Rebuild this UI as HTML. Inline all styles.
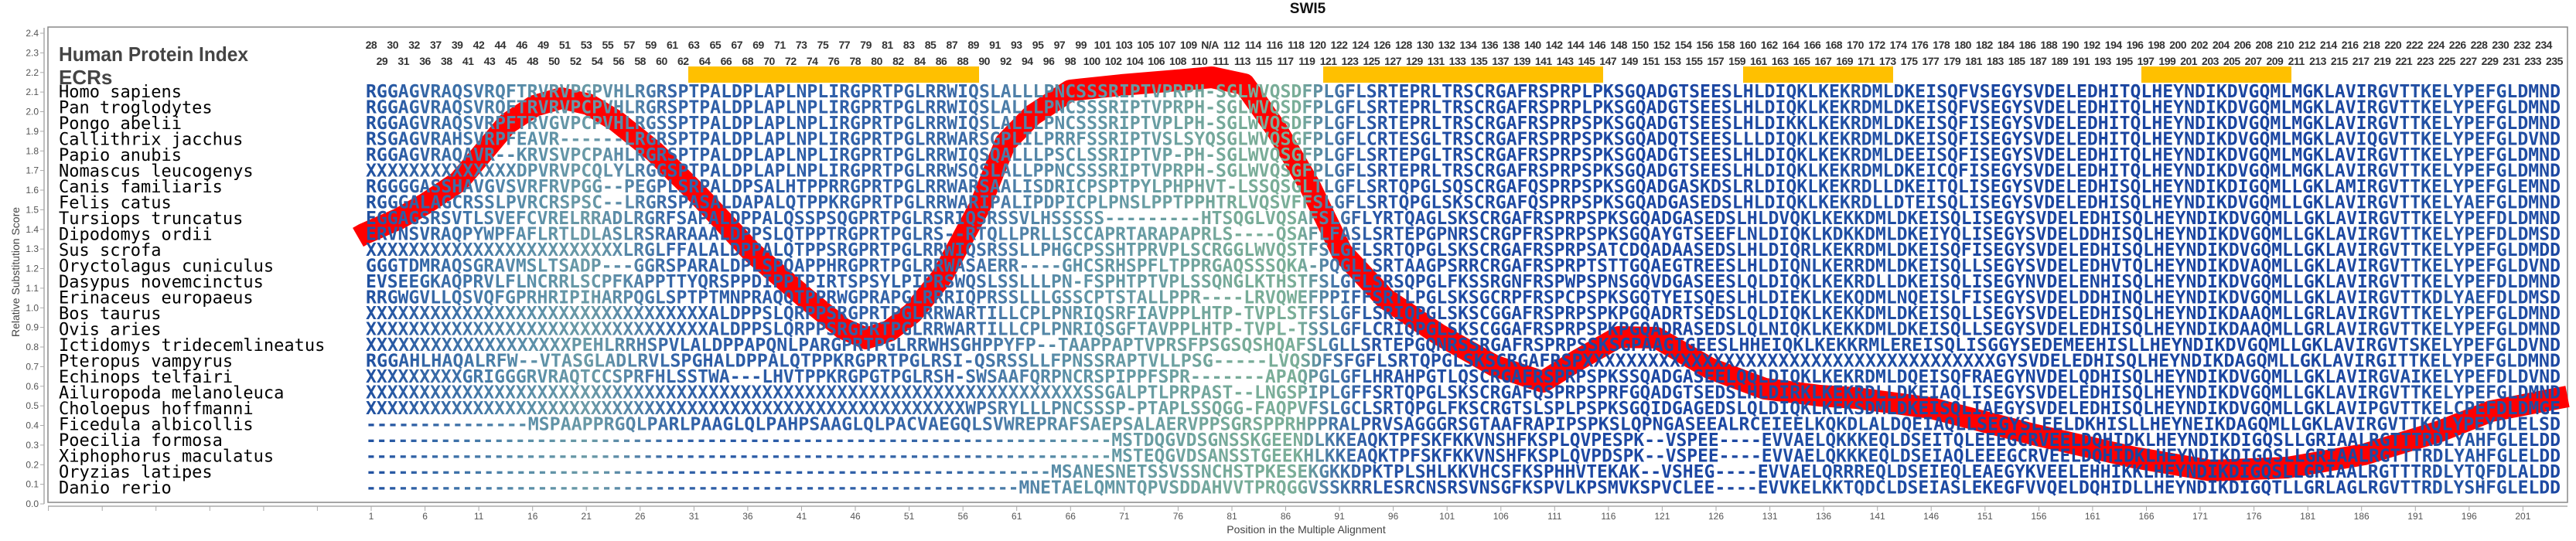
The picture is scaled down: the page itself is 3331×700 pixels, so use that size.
<!DOCTYPE html>
<html><head><meta charset="utf-8"><style>
html,body{margin:0;padding:0;background:#fff;}
#w{position:relative;width:3331px;height:700px;overflow:hidden;background:#fff;}
svg{position:absolute;left:0;top:0;}
.idx{position:absolute;display:flex;font-family:"Liberation Sans",sans-serif;font-weight:bold;font-size:14px;color:#333;line-height:16px;}
.idx span{width:27.824px;text-align:center;flex:none;letter-spacing:-0.5px;}
</style></head><body><div id="w">
<svg width="3331" height="700" viewBox="0 0 3331 700" xmlns="http://www.w3.org/2000/svg">
<defs>
<linearGradient id="g" gradientUnits="userSpaceOnUse" x1="473" y1="0" x2="3311" y2="0">
<stop offset="0" stop-color="#2050a0"/>
<stop offset="0.017" stop-color="#2d5ea5"/>
<stop offset="0.045" stop-color="#3f73a8"/>
<stop offset="0.073" stop-color="#5a8ea8"/>
<stop offset="0.101" stop-color="#6a9aa6"/>
<stop offset="0.122" stop-color="#5585a8"/>
<stop offset="0.140" stop-color="#3565a8"/>
<stop offset="0.168" stop-color="#2a5aa6"/>
<stop offset="0.221" stop-color="#3060a8"/>
<stop offset="0.274" stop-color="#3a6aa6"/>
<stop offset="0.291" stop-color="#4b7ca8"/>
<stop offset="0.327" stop-color="#5f94a6"/>
<stop offset="0.362" stop-color="#6a9ea2"/>
<stop offset="0.397" stop-color="#78ab98"/>
<stop offset="0.425" stop-color="#7aae98"/>
<stop offset="0.440" stop-color="#4878a8"/>
<stop offset="0.460" stop-color="#2855a5"/>
<stop offset="0.503" stop-color="#1e4aa2"/>
<stop offset="0.608" stop-color="#1c46a2"/>
<stop offset="0.679" stop-color="#2050a4"/>
<stop offset="0.749" stop-color="#1a45a0"/>
<stop offset="0.890" stop-color="#1a45a0"/>
<stop offset="0.961" stop-color="#2555a5"/>
<stop offset="1" stop-color="#1c48a2"/>
</linearGradient>
</defs>
<text x="1691" y="17" text-anchor="middle" font-family="Liberation Sans, sans-serif" font-weight="bold" font-size="19" fill="#111">SWI5</text>
<rect x="62" y="35" width="3258" height="615" fill="none" stroke="#888" stroke-width="1.5"/>
<line x1="57" y1="36" x2="57" y2="652" stroke="#aaa" stroke-width="1.5"/>
<line x1="62" y1="655" x2="3320" y2="655" stroke="#aaa" stroke-width="1.5"/>
<g stroke="#aaa" stroke-width="1">
<line x1="52" y1="43" x2="57" y2="43"/><line x1="52" y1="68.4" x2="57" y2="68.4"/><line x1="52" y1="93.8" x2="57" y2="93.8"/><line x1="52" y1="119.1" x2="57" y2="119.1"/><line x1="52" y1="144.5" x2="57" y2="144.5"/><line x1="52" y1="169.9" x2="57" y2="169.9"/><line x1="52" y1="195.3" x2="57" y2="195.3"/><line x1="52" y1="220.6" x2="57" y2="220.6"/><line x1="52" y1="246" x2="57" y2="246"/><line x1="52" y1="271.4" x2="57" y2="271.4"/><line x1="52" y1="296.8" x2="57" y2="296.8"/><line x1="52" y1="322.1" x2="57" y2="322.1"/><line x1="52" y1="347.5" x2="57" y2="347.5"/><line x1="52" y1="372.9" x2="57" y2="372.9"/><line x1="52" y1="398.3" x2="57" y2="398.3"/><line x1="52" y1="423.6" x2="57" y2="423.6"/><line x1="52" y1="449" x2="57" y2="449"/><line x1="52" y1="474.4" x2="57" y2="474.4"/><line x1="52" y1="499.8" x2="57" y2="499.8"/><line x1="52" y1="525.1" x2="57" y2="525.1"/><line x1="52" y1="550.5" x2="57" y2="550.5"/><line x1="52" y1="575.9" x2="57" y2="575.9"/><line x1="52" y1="601.3" x2="57" y2="601.3"/><line x1="52" y1="626.6" x2="57" y2="626.6"/><line x1="52" y1="652" x2="57" y2="652"/>
</g>
<g font-family="Liberation Sans, sans-serif" font-size="12" fill="#555" text-anchor="end">
<text x="50" y="47">2.4</text><text x="50" y="72.4">2.3</text><text x="50" y="97.8">2.2</text><text x="50" y="123.1">2.1</text><text x="50" y="148.5">2.0</text><text x="50" y="173.9">1.9</text><text x="50" y="199.3">1.8</text><text x="50" y="224.6">1.7</text><text x="50" y="250">1.6</text><text x="50" y="275.4">1.5</text><text x="50" y="300.8">1.4</text><text x="50" y="326.1">1.3</text><text x="50" y="351.5">1.2</text><text x="50" y="376.9">1.1</text><text x="50" y="402.3">1.0</text><text x="50" y="427.6">0.9</text><text x="50" y="453">0.8</text><text x="50" y="478.4">0.7</text><text x="50" y="503.8">0.6</text><text x="50" y="529.1">0.5</text><text x="50" y="554.5">0.4</text><text x="50" y="579.9">0.3</text><text x="50" y="605.3">0.2</text><text x="50" y="630.6">0.1</text><text x="50" y="656">0.0</text>
</g>
<text transform="translate(25,352) rotate(-90)" text-anchor="middle" font-family="Liberation Sans, sans-serif" font-size="14" fill="#444">Relative Substitution Score</text>
<g stroke="#aaa" stroke-width="1">
<line x1="62.6" y1="655" x2="62.6" y2="661"/><line x1="132.2" y1="655" x2="132.2" y2="661"/><line x1="201.7" y1="655" x2="201.7" y2="661"/><line x1="271.3" y1="655" x2="271.3" y2="661"/><line x1="340.9" y1="655" x2="340.9" y2="661"/><line x1="410.4" y1="655" x2="410.4" y2="661"/>
<line x1="480" y1="655" x2="480" y2="661"/><line x1="549.6" y1="655" x2="549.6" y2="661"/><line x1="619.1" y1="655" x2="619.1" y2="661"/><line x1="688.7" y1="655" x2="688.7" y2="661"/><line x1="758.2" y1="655" x2="758.2" y2="661"/><line x1="827.8" y1="655" x2="827.8" y2="661"/><line x1="897.4" y1="655" x2="897.4" y2="661"/><line x1="966.9" y1="655" x2="966.9" y2="661"/><line x1="1036.5" y1="655" x2="1036.5" y2="661"/><line x1="1106" y1="655" x2="1106" y2="661"/><line x1="1175.6" y1="655" x2="1175.6" y2="661"/><line x1="1245.2" y1="655" x2="1245.2" y2="661"/><line x1="1314.7" y1="655" x2="1314.7" y2="661"/><line x1="1384.3" y1="655" x2="1384.3" y2="661"/><line x1="1453.8" y1="655" x2="1453.8" y2="661"/><line x1="1523.4" y1="655" x2="1523.4" y2="661"/><line x1="1593" y1="655" x2="1593" y2="661"/><line x1="1662.5" y1="655" x2="1662.5" y2="661"/><line x1="1732.1" y1="655" x2="1732.1" y2="661"/><line x1="1801.6" y1="655" x2="1801.6" y2="661"/><line x1="1871.2" y1="655" x2="1871.2" y2="661"/><line x1="1940.8" y1="655" x2="1940.8" y2="661"/><line x1="2010.3" y1="655" x2="2010.3" y2="661"/><line x1="2079.9" y1="655" x2="2079.9" y2="661"/><line x1="2149.4" y1="655" x2="2149.4" y2="661"/><line x1="2219" y1="655" x2="2219" y2="661"/><line x1="2288.6" y1="655" x2="2288.6" y2="661"/><line x1="2358.1" y1="655" x2="2358.1" y2="661"/><line x1="2427.7" y1="655" x2="2427.7" y2="661"/><line x1="2497.2" y1="655" x2="2497.2" y2="661"/><line x1="2566.8" y1="655" x2="2566.8" y2="661"/><line x1="2636.4" y1="655" x2="2636.4" y2="661"/><line x1="2705.9" y1="655" x2="2705.9" y2="661"/><line x1="2775.5" y1="655" x2="2775.5" y2="661"/><line x1="2845" y1="655" x2="2845" y2="661"/><line x1="2914.6" y1="655" x2="2914.6" y2="661"/><line x1="2984.2" y1="655" x2="2984.2" y2="661"/><line x1="3053.7" y1="655" x2="3053.7" y2="661"/><line x1="3123.3" y1="655" x2="3123.3" y2="661"/><line x1="3192.8" y1="655" x2="3192.8" y2="661"/><line x1="3262.4" y1="655" x2="3262.4" y2="661"/>
</g>
<g font-family="Liberation Sans, sans-serif" font-size="12" fill="#555" text-anchor="middle">
<text x="480" y="672">1</text><text x="549.6" y="672">6</text><text x="619.1" y="672">11</text><text x="688.7" y="672">16</text><text x="758.2" y="672">21</text><text x="827.8" y="672">26</text><text x="897.4" y="672">31</text><text x="966.9" y="672">36</text><text x="1036.5" y="672">41</text><text x="1106" y="672">46</text><text x="1175.6" y="672">51</text><text x="1245.2" y="672">56</text><text x="1314.7" y="672">61</text><text x="1384.3" y="672">66</text><text x="1453.8" y="672">71</text><text x="1523.4" y="672">76</text><text x="1593" y="672">81</text><text x="1662.5" y="672">86</text><text x="1732.1" y="672">91</text><text x="1801.6" y="672">96</text><text x="1871.2" y="672">101</text><text x="1940.8" y="672">106</text><text x="2010.3" y="672">111</text><text x="2079.9" y="672">116</text><text x="2149.4" y="672">121</text><text x="2219" y="672">126</text><text x="2288.6" y="672">131</text><text x="2358.1" y="672">136</text><text x="2427.7" y="672">141</text><text x="2497.2" y="672">146</text><text x="2566.8" y="672">151</text><text x="2636.4" y="672">156</text><text x="2705.9" y="672">161</text><text x="2775.5" y="672">166</text><text x="2845" y="672">171</text><text x="2914.6" y="672">176</text><text x="2984.2" y="672">181</text><text x="3053.7" y="672">186</text><text x="3123.3" y="672">191</text><text x="3192.8" y="672">196</text><text x="3262.4" y="672">201</text>
</g>
<text x="1689" y="690" text-anchor="middle" font-family="Liberation Sans, sans-serif" font-size="14" fill="#444">Position in the Multiple Alignment</text>
<text x="76" y="79" font-family="Liberation Sans, sans-serif" font-weight="bold" font-size="26" fill="#444" textLength="245" lengthAdjust="spacingAndGlyphs">Human Protein Index</text>
<text x="76" y="109" font-family="Liberation Sans, sans-serif" font-weight="bold" font-size="26" fill="#444">ECRs</text>
<g fill="#ffc000">
<rect x="890" y="86" width="376" height="21"/>
<rect x="1711" y="86" width="362" height="21"/>
<rect x="2254" y="86" width="194" height="21"/>
<rect x="2769" y="86" width="194" height="21"/>
</g>
<polyline fill="none" stroke="#ff0000" stroke-width="28" stroke-linejoin="round" points="463,307 470,303 516,283 551,263 593,235 625,197 656,160 691,137 726,127 761,135 796,156 846,196 902,251 972,326 1042,386 1090,425 1120,438 1150,428 1180,405 1218,358 1267,267 1300,185 1335,149 1384,117 1450,110 1510,105 1567,100 1609,109 1651,168 1693,239 1735,326 1791,386 1861,433 1932,473 1995,494 2040,466 2093,436 2142,437 2212,477 2282,503 2353,512 2400,515 2497,528 2629,562 2760,592 2859,609 2958,605 3057,588 3155,558 3221,532 3320,513"/>
<g font-family="DejaVu Sans Mono, Liberation Mono, monospace" font-size="22" fill="#000">
<text x="76" y="126">Homo sapiens</text>
<text x="76" y="146.5">Pan troglodytes</text>
<text x="76" y="167">Pongo abelii</text>
<text x="76" y="187.5">Callithrix jacchus</text>
<text x="76" y="208">Papio anubis</text>
<text x="76" y="228.5">Nomascus leucogenys</text>
<text x="76" y="249">Canis familiaris</text>
<text x="76" y="269.5">Felis catus</text>
<text x="76" y="290">Tursiops truncatus</text>
<text x="76" y="310.5">Dipodomys ordii</text>
<text x="76" y="331">Sus scrofa</text>
<text x="76" y="351.5">Oryctolagus cuniculus</text>
<text x="76" y="372">Dasypus novemcinctus</text>
<text x="76" y="392.5">Erinaceus europaeus</text>
<text x="76" y="413">Bos taurus</text>
<text x="76" y="433.5">Ovis aries</text>
<text x="76" y="454">Ictidomys tridecemlineatus</text>
<text x="76" y="474.5">Pteropus vampyrus</text>
<text x="76" y="495">Echinops telfairi</text>
<text x="76" y="515.5">Ailuropoda melanoleuca</text>
<text x="76" y="536">Choloepus hoffmanni</text>
<text x="76" y="556.5">Ficedula albicollis</text>
<text x="76" y="577">Poecilia formosa</text>
<text x="76" y="597.5">Xiphophorus maculatus</text>
<text x="76" y="618">Oryzias latipes</text>
<text x="76" y="638.5">Danio rerio</text>
</g>
<g font-family="DejaVu Sans Mono, Liberation Mono, monospace" font-weight="bold" font-size="23" fill="url(#g)">
<text x="473" y="126" textLength="2838" lengthAdjust="spacingAndGlyphs">RGGAGVRAQSVRQFTRVRVPGPVHLRGRSPTPALDPLAPLNPLIRGPRTPGLRRWIQSLALLLPNCSSSRIPTVPRPH-SGLWVQSDFPLGFLSRTEPRLTRSCRGAFRSPRPLPKSGQADGTSEESLHLDIQKLKEKRDMLDKEISQFVSEGYSVDELEDHITQLHEYNDIKDVGQMLMGKLAVIRGVTTKELYPEFGLDMND</text>
<text x="473" y="146.5" textLength="2838" lengthAdjust="spacingAndGlyphs">RGGAGVRAQSVRQFTRVRVPCPVHLRGRSPTPALDPLAPLNPLIRGPRTPGLRRWIQSLALLLPNCSSSRIPTVPRPH-SGLWVQSDFPLGFLSRTEPRLTRSCRGAFRSPRPLPKSGQADGTSEESLHLDIQKLKEKRDMLDKEISQFVSEGYSVDELEDHITQLHEYNDIKDVGQMLMGKLAVIRGVTTKELYPEFGLDMND</text>
<text x="473" y="167" textLength="2838" lengthAdjust="spacingAndGlyphs">RGGAGVRAQSVRPFTRVGVPCPVHLRGSSPTPALDPLAPLNPLIRGPRTPGLRRWIQSLALLLPNCSSSRIPTVPLPH-SGLWVQSDFPLGFLSRTEPRLTRSCRGAFRSPRPSPKSGQADGTSEESLHLDIKKLKEKRDMLDKEISQFISEGYSVDELEDHITQLHEYNDIKDVGQMLMGKLAVIRGVTTKELYPEFGLDMND</text>
<text x="473" y="187.5" textLength="2838" lengthAdjust="spacingAndGlyphs">RSGAGVRAHSVRPFEAVR------LRGRSPTPALDPLAPLNPLIRGPRTPGLRRWARSGPLILPRRFSSRIPTVSLSYQSGLWVQSGFPLGFLCRTESGLTRSCRGAFRSPRPSPKSGQADQTSEESLLLDIQKLKEKRDMLDKEISQFISEGYSVDELEDHITQLHEYNDIKDVGQMLMGKLAVIQGVTTKELYPEFGLDVND</text>
<text x="473" y="208" textLength="2838" lengthAdjust="spacingAndGlyphs">RGGAGVRAQAVR--KRVSVPCPAHLRGRSPTPALDPLAPLNPLIRGPRTPGLRRWIQSQALLLPSCLSSRIPTVP-PH-SGLWVQSGFPLGFLSRTEPGLTRSCRGAFRSPRPSPKSGQADGTSEESLHLDIQKLKEKRDMLDEEISQFISEGYSVDELEDHITQLHEYNDIKDVGQMLMGKLAVIRGVTTKELYPEFGLDMND</text>
<text x="473" y="228.5" textLength="2838" lengthAdjust="spacingAndGlyphs">XXXXXXXXXXXXXXDPVRVPCQLYLRGGSPTPALDPLAPLNPLIRGPRTPGLRRWSQSLALLPPNCSSSRIPTVPRPH-SGLWVQSGFPLGFLSRTEPRLTRSCRGAFRSPRPSPKSGQADGTSEESLHLDIQKLKEKRDMLDKEICQFISEGYSVDELEDHITQLHEYNDIKDVGQMLMGKLAVIRGVTTKELYPEFGLDMND</text>
<text x="473" y="249" textLength="2838" lengthAdjust="spacingAndGlyphs">RGGGGASSHAVGVSVRFRVPGG--PEGPLSRPALDPSALHTPPRRGPRTPGLRRWARSAALISDRICPSPTPYLPHPHVT-LSSQSGLTLGFLSRTQPGLSQSCRGAFQSPRPSPKSGQADGASKDSLRLDIQKLKEKRDLLDKEITQLISEGYSVDELEDHISQLHEYNDIKDIGQMLLGKLAMIRGVTTKELYPEFGLEMND</text>
<text x="473" y="269.5" textLength="2838" lengthAdjust="spacingAndGlyphs">RGGGALAGCRSSLPVRCRSPSC--LRGRSPASALDAPALQTPPKRGPRTPGLRRWARIPALIPDPICPLPNSLPPTPPHTRLVQSVFFSLGFLSRTQPGLSKSCRGAFQSPRPSPKSGQADGASEDSLHLDIQKLKEKRDLLDTEISQLISEGYSVDELEDHISQLHEYNDIKDVGQMLLGKLAVIRGVTTKELYAEFGLDMND</text>
<text x="473" y="290" textLength="2838" lengthAdjust="spacingAndGlyphs">EGGAGSRSVTLSVEFCVRELRRADLRGRFSAPALDPPALQSSPSQGPRTPGLRSRIQSRSSVLHSSSSS---------HTSQGLVQSAFSLGFLYRTQAGLSKSCRGAFRSPRPSPKSGQADGASEDSLHLDVQKLKEKKDMLDKEISQLISEGYSVDELEDHISQLHEYNDIKDVGQMLLGKLAVIRGVTTKELYPEFDLDMND</text>
<text x="473" y="310.5" textLength="2838" lengthAdjust="spacingAndGlyphs">ERVNSVRAQPYWPFAFLRTLDLASLRSRARAAALDPPSLQTPPTRGPRTPGLRS--RTQLLPRLLSCCAPRTARAPAPRLS----QSAFLFASLSRTEPGPNRSCRGPFRSPRPSPKSGQAYGTSEEFLNLDIQKLKDKKDMLDKEIYQLISEGYSVDELDDHISQLHEYNDIKDVGQMLLGKLAVIRGVTTKELYPEFDLDMSD</text>
<text x="473" y="331" textLength="2838" lengthAdjust="spacingAndGlyphs">XXXXXXXXXXXXXXXXXXXXXXXXLRGLFFALALDPPALQTPPSRGPRTPGLRRWIQSRSSLLPHGCPSSHTPRVPLSCRGGLWVQSTFSLGFLSRTQPGLSKSCRGAFRSPRPSATCDQADAASEDSLHLDIQRLKEKRDMLDKEISQFISEGYSVDELEDHISQLHEYNDIKDVGQMLLGKLAVIRGVTTKELYPEFGLDMDD</text>
<text x="473" y="351.5" textLength="2838" lengthAdjust="spacingAndGlyphs">GGGTDMRAQSGRAVMSLTSADP---GGRSPARALDPLSPQAPPHRGPRTPGLRRWASAERR----GHCSRHSPFLTPPRGAQSSSQKA-PQGLLSRTAAGPSRRCRGAFRSPRPTSTTGQAEGTREESLHLDIQNLKERRDMLDKEISQLLSEGYSVDELEDHVTQLHEYNDIKDVAQMLLGKLAVIRGVTTKELYPEFGLDVND</text>
<text x="473" y="372" textLength="2838" lengthAdjust="spacingAndGlyphs">EVSEEGKAQPRVLFLNCRRLSCPFKAPPTTYQRSPPDIPPTPIRTSPSYLPIPRSWQSLSSLLLPN-FSPHTPTVPLSSQNGLKTHSTFSLGFLSRSQPGLFKSSRGNFRSPWPSPNSGQVDGASEESLQLDIQKLKEKRDLLDKEISQLISEGYNVDELENHISQLHEYNDIKDVGQMLLGKLAVIRGVTTKELYPEFDLDMND</text>
<text x="473" y="392.5" textLength="2838" lengthAdjust="spacingAndGlyphs">RRGWGVLLQSVQFGPRHRIPIHARPQGLSPTPTMNPRAQQTPPRWGPRAPGLRRRIQPRSSLLLGSSCPTSTALLPPR----LRVQWEFPPIFFSRTLPGLSKSGCRPFRSPCPSPKSGQTYEISQESLHLDIEKLKEKQDMLNQEISLFISEGYSVDELDDHINQLHEYNDIKDVGQMLLGKLAVIRGVTTKDLYAEFDLDMSD</text>
<text x="473" y="413" textLength="2838" lengthAdjust="spacingAndGlyphs">XXXXXXXXXXXXXXXXXXXXXXXXXXXXXXXXALDPPSLQRPPSRGPRTPGLRRWARTILLCPLPNRIQSRFIAVPPLHTP-TVPLSTFSLGFLSRIQPGLSKSCGGAFRSPRPSPKPGQADRTSEDSLQLDIQKLKEKKDMLDKEISQLLSEGYSVDELEDHISQLHEYNDIKDAAQMLLGRLAVIRGVTTKELYPEFGLDMND</text>
<text x="473" y="433.5" textLength="2838" lengthAdjust="spacingAndGlyphs">XXXXXXXXXXXXXXXXXXXXXXXXXXXXXXXXALDPPSLQRPPSRGPRTPGLRRWARTILLCPLPNRIQSGFTAVPPLHTP-TVPL-TSSLGFLCRIQPGLSKSCGGAFRSPRPSPKPGQADRASEDSLQLNIQKLKEKKDMLDKEISQLLSEGYSVDELEDHISQLHEYNDIKDAAQMLLGRLAVIRGVTTKELYPEFGLDMND</text>
<text x="473" y="454" textLength="2838" lengthAdjust="spacingAndGlyphs">XXXXXXXXXXXXXXXXXXXPEHLRRHSPVLALDPPAPQNLPARGPRTPGLRRWHSGHPPYFP--TAAPPAPTVPRSFPSGSQSHQAFSLGLLSRTEPGQNRSSRGAFRSPRPSSKSGPAAGTGEESLHHEIQKLKEKKRMLEREISQLISGGYSEDEMEEHISLLHEYNDIKDVGQMLLGKLAVIRGVTSKELYPEFGLDVND</text>
<text x="473" y="474.5" textLength="2838" lengthAdjust="spacingAndGlyphs">RGGAHLHAQALRFW--VTASGLADLRVLSPGHALDPPALQTPPKRGPRTPGLRSI-QSRSSLLFPNSSRAPTVLLPSG-----LVQSDFSFGFLSRTQPGLSKSCRGAFRSPXXXXXXXXXXXXXXXXXXXXXXXXXXXXXXXXXXXXXXGYSVDELEDHISQLHEYNDIKDAGQMLLGKLAVIRGITTKELYPEFGLDMND</text>
<text x="473" y="495" textLength="2838" lengthAdjust="spacingAndGlyphs">XXXXXXXXXGRIGGGRVRAQTCCSPRFHLSSTWA---LHVTPPKRGPGTPGLRSH-SWSAAFQRPNCRSPIPPFSPR-------APAQPGLGFLHRAHPGTLQSCRGAFRSPRPSPKSSQADGASEELQQLDIQKLKEKRDMLDQEISQFRAEGYNVDELQDHISQLHEYNDIKDVGQMLLGKLAVIRGVAIKELYPEFDLDVND</text>
<text x="473" y="515.5" textLength="2838" lengthAdjust="spacingAndGlyphs">XXXXXXXXXXXXXXXXXXXXXXXXXXXXXXXXXXXXXXXXXXXXXXXXXXXXXXXXXXXXXXXXXXXSSGALPTLPRPAST--LNGSPIPLGFFSRTQPGLSKSCRGAFQSPRPSPRFGQADGTSEDSLHLDIRKLKEKRDLLDKEIAQLISEGYSVDELEDHISQLHEYNDIKDVGQMLLGKLAVIRGVTTKELYPEFGLDMND</text>
<text x="473" y="536" textLength="2838" lengthAdjust="spacingAndGlyphs">XXXXXXXXXXXXXXXXXXXXXXXXXXXXXXXXXXXXXXXXXXXXXXXXXXXXXXXXWPSRYLLLPNCSSSP-PTAPLSSQGG-FAQPVFSLGCLSRTQPGLFKSCRGTSLSPLPSPKSGQIDGAGEDSLQLDIQKLKEKSDMLDKEISQLIAEGYSVDELEDHISQLHEYNDIKDVGQMLLGKLAVIPGVTTKELCPEFDLDMGE</text>
<text x="473" y="556.5" textLength="2838" lengthAdjust="spacingAndGlyphs">---------------MSPAAPPRGQLPARLPAAGLQLPAHPSAAGLQLPACVAEGQLSVWREPRAFSAEPSALAERVPPSGRSPPRHPPRALPRVSAGGGRSGTAAFRAPIPSPKSLQPNGASEEALRCEIEELKQKDLALDQEIAQLLSEGYSLEELDKHISLLHEYNEIKDAGQMLLGKLAVIRGVTTKQLYPEYDLELSD</text>
<text x="473" y="577" textLength="2838" lengthAdjust="spacingAndGlyphs">----------------------------------------------------------------------MSTDQGVDSGNSSKGEENDLKKEAQKTPFSKFKKVNSHFKSPLQVPESPK--VSPEE----EVVAELQKKKEQLDSEITQLEEEGCRVEELDQHIDKLHEYNDIKDIGQSLLGRIAALRGTTTRDLYAHFGLELDD</text>
<text x="473" y="597.5" textLength="2838" lengthAdjust="spacingAndGlyphs">----------------------------------------------------------------------MSTEQGVDSANSSTGEEKHLKKEAQKTPFSKFKKVNSHFKSPLQVPDSPK--VSPEE----EVVAELQKKKEQLDSEIAQLEEEGCRVEELDQHIDKLHEYNDIKDIGQSLLGRIAALRGTTTRDLYAHFGLELDD</text>
<text x="473" y="618" textLength="2838" lengthAdjust="spacingAndGlyphs">----------------------------------------------------------------MSANESNETSSVSSNCHSTPKESEKGKKDPKTPLSHLKKVHCSFKSPHHVTEKAK--VSHEG----EVVAELQRRREQLDSEIEQLEAEGYKVEELEHHIKKLHEYNDIKDIGQSLLGRIAALRGTTTRDLYTQFDLALDD</text>
<text x="473" y="638.5" textLength="2838" lengthAdjust="spacingAndGlyphs">-------------------------------------------------------------MNETAELQMNTQPVSDDAHVVTPRQGGVSSKRRLESRCNSRSVNSGFKSPVLKPSMVKSPVCLEE----EVVKELKKTQDCLDSEIASLEKEGFVVQELDQHIDLLHEYNDIKDIGQTLLGRLAGLRGVTTRDLYSHFGLELDD</text>
</g>
</svg>
<div class="idx" style="left:466px;top:50px;"><span>28</span><span>30</span><span>32</span><span>37</span><span>39</span><span>42</span><span>44</span><span>46</span><span>49</span><span>51</span><span>53</span><span>55</span><span>57</span><span>59</span><span>61</span><span>63</span><span>65</span><span>67</span><span>69</span><span>71</span><span>73</span><span>75</span><span>77</span><span>79</span><span>81</span><span>83</span><span>85</span><span>87</span><span>89</span><span>91</span><span>93</span><span>95</span><span>97</span><span>99</span><span>101</span><span>103</span><span>105</span><span>107</span><span>109</span><span>N/A</span><span>112</span><span>114</span><span>116</span><span>118</span><span>120</span><span>122</span><span>124</span><span>126</span><span>128</span><span>130</span><span>132</span><span>134</span><span>136</span><span>138</span><span>140</span><span>142</span><span>144</span><span>146</span><span>148</span><span>150</span><span>152</span><span>154</span><span>156</span><span>158</span><span>160</span><span>162</span><span>164</span><span>166</span><span>168</span><span>170</span><span>172</span><span>174</span><span>176</span><span>178</span><span>180</span><span>182</span><span>184</span><span>186</span><span>188</span><span>190</span><span>192</span><span>194</span><span>196</span><span>198</span><span>200</span><span>202</span><span>204</span><span>206</span><span>208</span><span>210</span><span>212</span><span>214</span><span>216</span><span>218</span><span>220</span><span>222</span><span>224</span><span>226</span><span>228</span><span>230</span><span>232</span><span>234</span></div>
<div class="idx" style="left:480px;top:71px;"><span>29</span><span>31</span><span>36</span><span>38</span><span>41</span><span>43</span><span>45</span><span>48</span><span>50</span><span>52</span><span>54</span><span>56</span><span>58</span><span>60</span><span>62</span><span>64</span><span>66</span><span>68</span><span>70</span><span>72</span><span>74</span><span>76</span><span>78</span><span>80</span><span>82</span><span>84</span><span>86</span><span>88</span><span>90</span><span>92</span><span>94</span><span>96</span><span>98</span><span>100</span><span>102</span><span>104</span><span>106</span><span>108</span><span>110</span><span>111</span><span>113</span><span>115</span><span>117</span><span>119</span><span>121</span><span>123</span><span>125</span><span>127</span><span>129</span><span>131</span><span>133</span><span>135</span><span>137</span><span>139</span><span>141</span><span>143</span><span>145</span><span>147</span><span>149</span><span>151</span><span>153</span><span>155</span><span>157</span><span>159</span><span>161</span><span>163</span><span>165</span><span>167</span><span>169</span><span>171</span><span>173</span><span>175</span><span>177</span><span>179</span><span>181</span><span>183</span><span>185</span><span>187</span><span>189</span><span>191</span><span>193</span><span>195</span><span>197</span><span>199</span><span>201</span><span>203</span><span>205</span><span>207</span><span>209</span><span>211</span><span>213</span><span>215</span><span>217</span><span>219</span><span>221</span><span>223</span><span>225</span><span>227</span><span>229</span><span>231</span><span>233</span><span>235</span></div>
</div></body></html>
